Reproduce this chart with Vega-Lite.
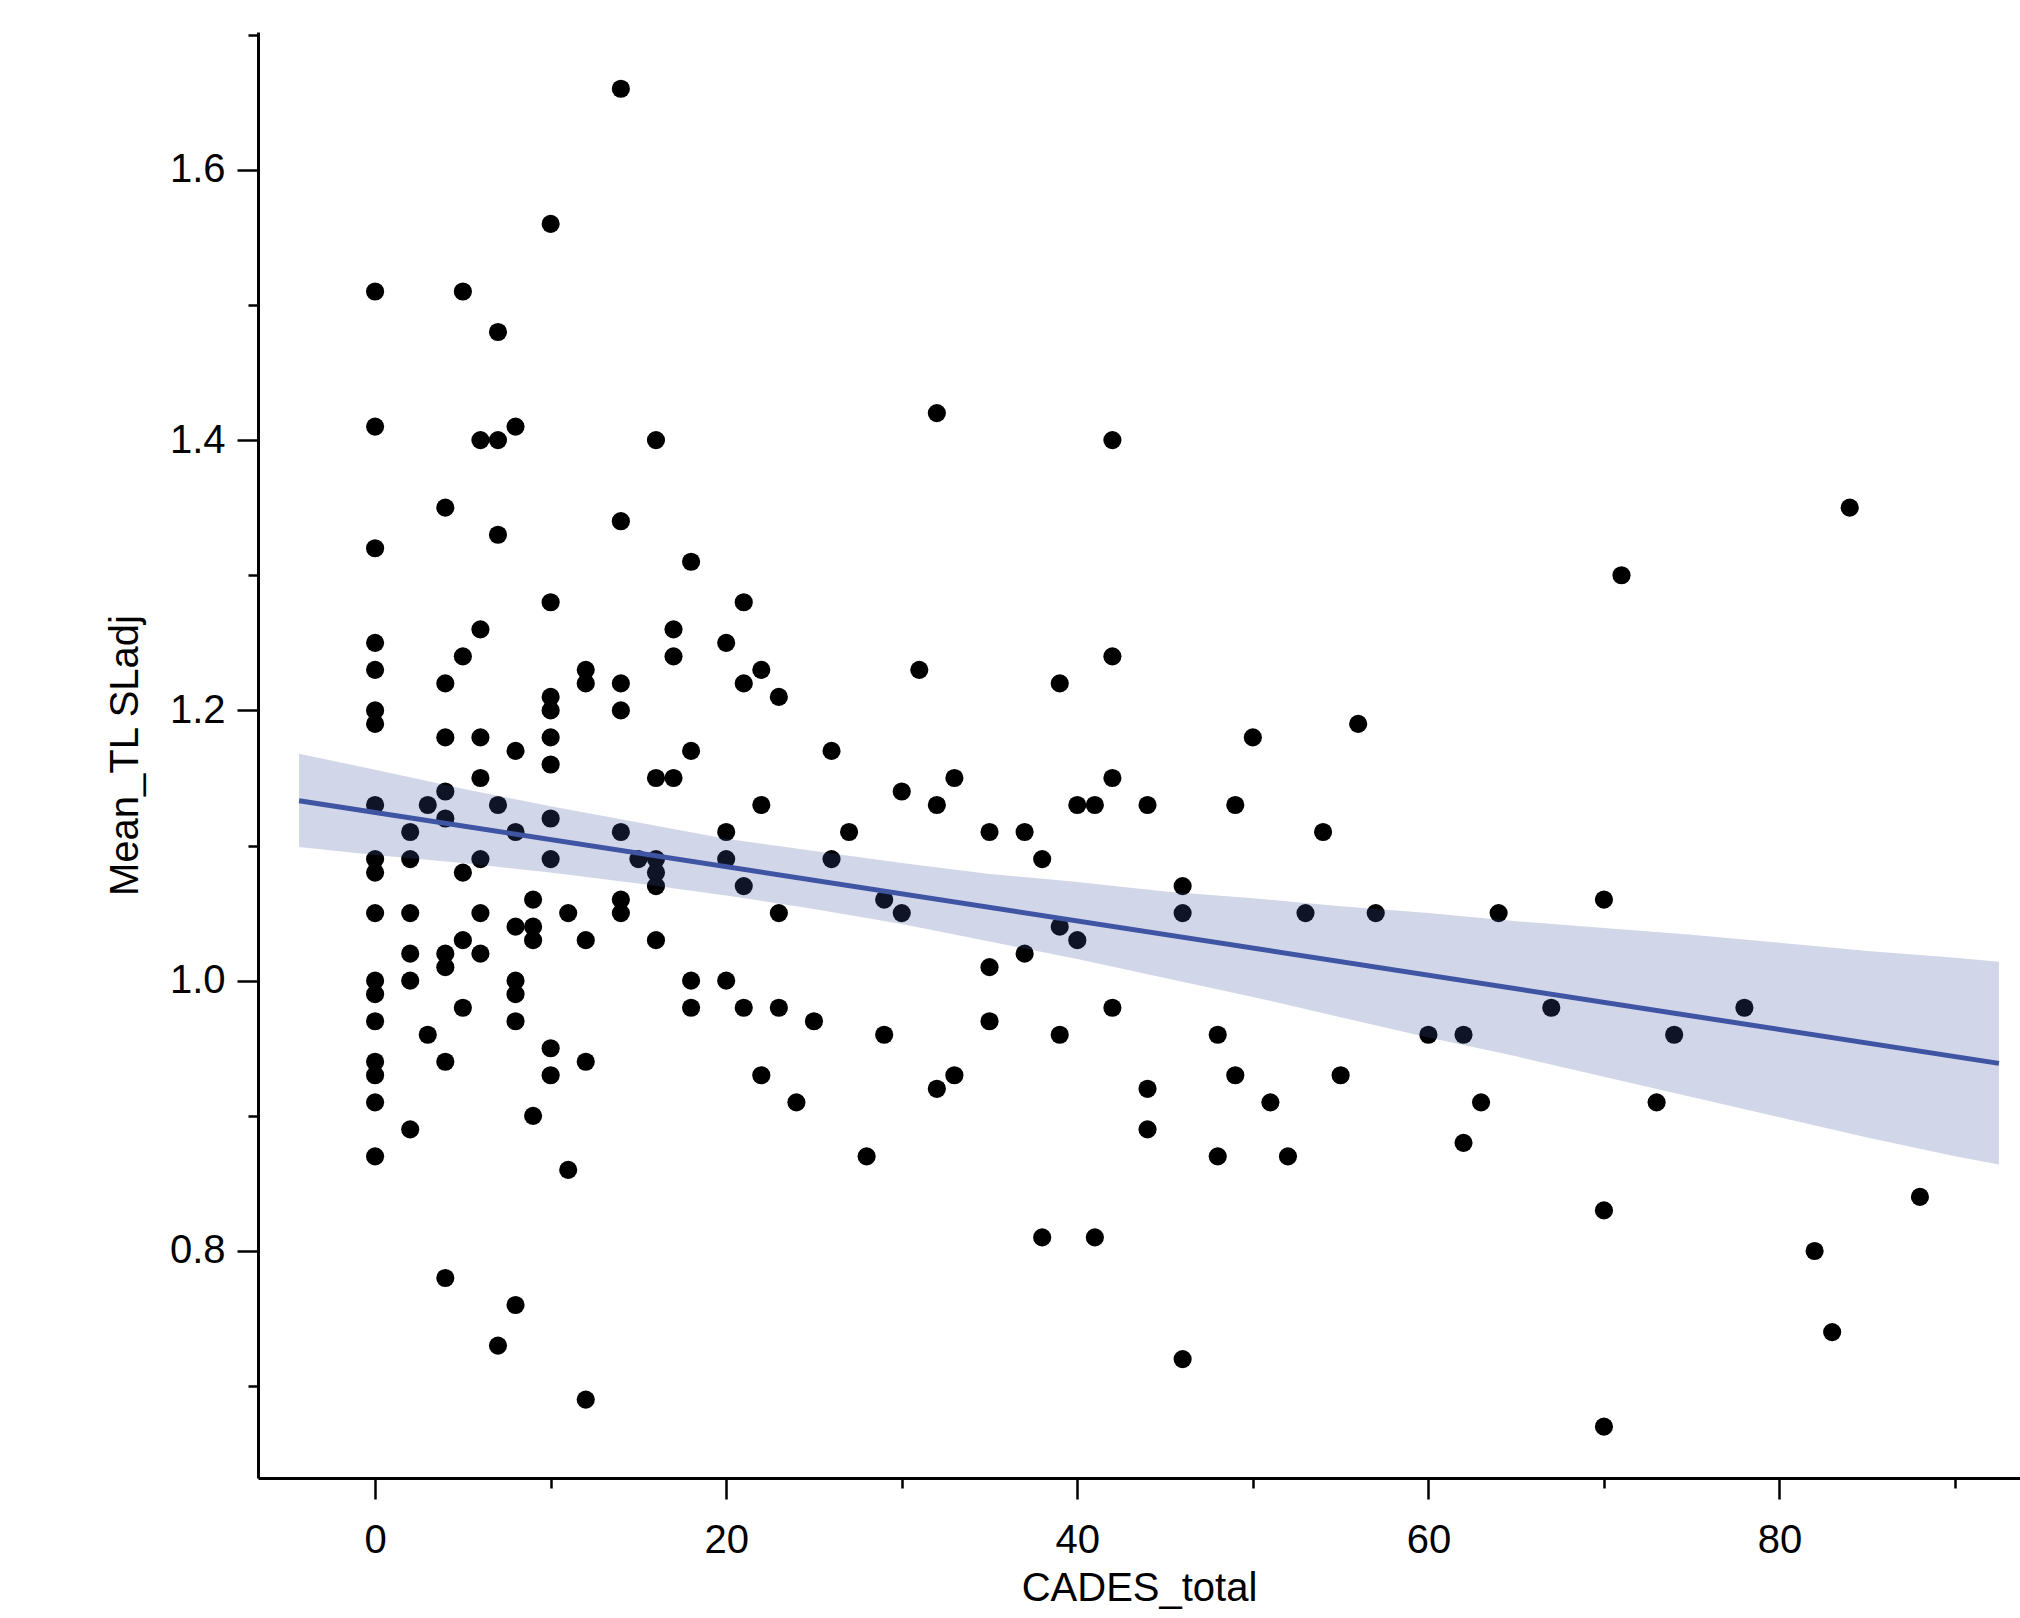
{
  "$schema": "https://vega.github.io/schema/vega-lite/v6.json",
  "width": 1762,
  "height": 1446,
  "autosize": {"type": "none"},
  "padding": {"left": 258, "top": 32, "right": 0, "bottom": 140},
  "background": "white",
  "datasets": {
    "points": [
      {"cades": 0, "tl": 1.51}, {"cades": 0, "tl": 1.41}, {"cades": 0, "tl": 1.32}, {"cades": 0, "tl": 1.25},
      {"cades": 0, "tl": 1.23}, {"cades": 0, "tl": 1.20}, {"cades": 0, "tl": 1.19}, {"cades": 0, "tl": 1.13},
      {"cades": 0, "tl": 1.09}, {"cades": 0, "tl": 1.08}, {"cades": 0, "tl": 1.05}, {"cades": 0, "tl": 1.00},
      {"cades": 0, "tl": 0.99}, {"cades": 0, "tl": 0.97}, {"cades": 0, "tl": 0.94}, {"cades": 0, "tl": 0.93},
      {"cades": 0, "tl": 0.91}, {"cades": 0, "tl": 0.87},
      {"cades": 2, "tl": 1.11}, {"cades": 2, "tl": 1.09}, {"cades": 2, "tl": 1.05}, {"cades": 2, "tl": 1.02},
      {"cades": 2, "tl": 1.00}, {"cades": 2, "tl": 0.89},
      {"cades": 3, "tl": 1.13}, {"cades": 3, "tl": 0.96},
      {"cades": 4, "tl": 1.35}, {"cades": 4, "tl": 1.22}, {"cades": 4, "tl": 1.18}, {"cades": 4, "tl": 1.14},
      {"cades": 4, "tl": 1.12}, {"cades": 4, "tl": 1.02}, {"cades": 4, "tl": 1.01}, {"cades": 4, "tl": 0.94},
      {"cades": 4, "tl": 0.78},
      {"cades": 5, "tl": 1.51}, {"cades": 5, "tl": 1.24}, {"cades": 5, "tl": 1.08}, {"cades": 5, "tl": 1.03},
      {"cades": 5, "tl": 0.98},
      {"cades": 6, "tl": 1.40}, {"cades": 6, "tl": 1.26}, {"cades": 6, "tl": 1.18}, {"cades": 6, "tl": 1.15},
      {"cades": 6, "tl": 1.09}, {"cades": 6, "tl": 1.05}, {"cades": 6, "tl": 1.02},
      {"cades": 7, "tl": 1.48}, {"cades": 7, "tl": 1.40}, {"cades": 7, "tl": 1.33}, {"cades": 7, "tl": 1.13},
      {"cades": 7, "tl": 0.73},
      {"cades": 8, "tl": 1.41}, {"cades": 8, "tl": 1.17}, {"cades": 8, "tl": 1.11}, {"cades": 8, "tl": 1.04},
      {"cades": 8, "tl": 1.00}, {"cades": 8, "tl": 0.99}, {"cades": 8, "tl": 0.97}, {"cades": 8, "tl": 0.76},
      {"cades": 9, "tl": 1.06}, {"cades": 9, "tl": 1.04}, {"cades": 9, "tl": 1.03}, {"cades": 9, "tl": 0.90},
      {"cades": 10, "tl": 1.56}, {"cades": 10, "tl": 1.28}, {"cades": 10, "tl": 1.21}, {"cades": 10, "tl": 1.20},
      {"cades": 10, "tl": 1.18}, {"cades": 10, "tl": 1.16}, {"cades": 10, "tl": 1.12}, {"cades": 10, "tl": 1.09},
      {"cades": 10, "tl": 0.95}, {"cades": 10, "tl": 0.93},
      {"cades": 11, "tl": 1.05}, {"cades": 11, "tl": 0.86},
      {"cades": 12, "tl": 1.23}, {"cades": 12, "tl": 1.22}, {"cades": 12, "tl": 1.03}, {"cades": 12, "tl": 0.94},
      {"cades": 12, "tl": 0.69},
      {"cades": 14, "tl": 1.66}, {"cades": 14, "tl": 1.34}, {"cades": 14, "tl": 1.22}, {"cades": 14, "tl": 1.20},
      {"cades": 14, "tl": 1.11}, {"cades": 14, "tl": 1.06}, {"cades": 14, "tl": 1.05},
      {"cades": 15, "tl": 1.09},
      {"cades": 16, "tl": 1.40}, {"cades": 16, "tl": 1.15}, {"cades": 16, "tl": 1.09}, {"cades": 16, "tl": 1.08},
      {"cades": 16, "tl": 1.07}, {"cades": 16, "tl": 1.03},
      {"cades": 17, "tl": 1.26}, {"cades": 17, "tl": 1.24}, {"cades": 17, "tl": 1.15},
      {"cades": 18, "tl": 1.31}, {"cades": 18, "tl": 1.17}, {"cades": 18, "tl": 1.00}, {"cades": 18, "tl": 0.98},
      {"cades": 20, "tl": 1.25}, {"cades": 20, "tl": 1.11}, {"cades": 20, "tl": 1.09}, {"cades": 20, "tl": 1.00},
      {"cades": 21, "tl": 1.28}, {"cades": 21, "tl": 1.22}, {"cades": 21, "tl": 1.07}, {"cades": 21, "tl": 0.98},
      {"cades": 22, "tl": 1.23}, {"cades": 22, "tl": 1.13}, {"cades": 22, "tl": 0.93},
      {"cades": 23, "tl": 1.21}, {"cades": 23, "tl": 1.05}, {"cades": 23, "tl": 0.98},
      {"cades": 24, "tl": 0.91},
      {"cades": 25, "tl": 0.97},
      {"cades": 26, "tl": 1.17}, {"cades": 26, "tl": 1.09},
      {"cades": 27, "tl": 1.11},
      {"cades": 28, "tl": 0.87},
      {"cades": 29, "tl": 1.06}, {"cades": 29, "tl": 0.96},
      {"cades": 30, "tl": 1.14}, {"cades": 30, "tl": 1.05},
      {"cades": 31, "tl": 1.23},
      {"cades": 32, "tl": 1.42}, {"cades": 32, "tl": 1.13}, {"cades": 32, "tl": 0.92},
      {"cades": 33, "tl": 1.15}, {"cades": 33, "tl": 0.93},
      {"cades": 35, "tl": 1.11}, {"cades": 35, "tl": 1.01}, {"cades": 35, "tl": 0.97},
      {"cades": 37, "tl": 1.11}, {"cades": 37, "tl": 1.02},
      {"cades": 38, "tl": 1.09}, {"cades": 38, "tl": 0.81},
      {"cades": 39, "tl": 1.22}, {"cades": 39, "tl": 1.04}, {"cades": 39, "tl": 0.96},
      {"cades": 40, "tl": 1.13}, {"cades": 40, "tl": 1.03},
      {"cades": 41, "tl": 1.13}, {"cades": 41, "tl": 0.81},
      {"cades": 42, "tl": 1.40}, {"cades": 42, "tl": 1.24}, {"cades": 42, "tl": 1.15}, {"cades": 42, "tl": 0.98},
      {"cades": 44, "tl": 1.13}, {"cades": 44, "tl": 0.92}, {"cades": 44, "tl": 0.89},
      {"cades": 46, "tl": 1.07}, {"cades": 46, "tl": 1.05}, {"cades": 46, "tl": 0.72},
      {"cades": 48, "tl": 0.96}, {"cades": 48, "tl": 0.87},
      {"cades": 49, "tl": 1.13}, {"cades": 49, "tl": 0.93},
      {"cades": 50, "tl": 1.18},
      {"cades": 51, "tl": 0.91},
      {"cades": 52, "tl": 0.87},
      {"cades": 53, "tl": 1.05},
      {"cades": 54, "tl": 1.11},
      {"cades": 55, "tl": 0.93},
      {"cades": 56, "tl": 1.19},
      {"cades": 57, "tl": 1.05},
      {"cades": 60, "tl": 0.96},
      {"cades": 62, "tl": 0.96}, {"cades": 62, "tl": 0.88},
      {"cades": 63, "tl": 0.91},
      {"cades": 64, "tl": 1.05},
      {"cades": 67, "tl": 0.98},
      {"cades": 70, "tl": 1.06}, {"cades": 70, "tl": 0.83}, {"cades": 70, "tl": 0.67},
      {"cades": 71, "tl": 1.30},
      {"cades": 73, "tl": 0.91},
      {"cades": 74, "tl": 0.96},
      {"cades": 78, "tl": 0.98},
      {"cades": 82, "tl": 0.80},
      {"cades": 83, "tl": 0.74},
      {"cades": 84, "tl": 1.35},
      {"cades": 88, "tl": 0.84}
    ],
    "band": [
      {"cades": -4.33, "lo": 1.099, "hi": 1.168},
      {"cades": 0, "lo": 1.093, "hi": 1.156},
      {"cades": 5, "lo": 1.087, "hi": 1.142},
      {"cades": 10, "lo": 1.080, "hi": 1.129},
      {"cades": 15, "lo": 1.072, "hi": 1.117},
      {"cades": 20, "lo": 1.063, "hi": 1.105},
      {"cades": 25, "lo": 1.053, "hi": 1.096},
      {"cades": 30, "lo": 1.042, "hi": 1.087},
      {"cades": 35, "lo": 1.029, "hi": 1.079},
      {"cades": 40, "lo": 1.016, "hi": 1.073},
      {"cades": 45, "lo": 1.002, "hi": 1.066},
      {"cades": 50, "lo": 0.988, "hi": 1.061},
      {"cades": 55, "lo": 0.973, "hi": 1.055},
      {"cades": 60, "lo": 0.958, "hi": 1.050},
      {"cades": 65, "lo": 0.944, "hi": 1.044},
      {"cades": 70, "lo": 0.929, "hi": 1.039},
      {"cades": 75, "lo": 0.914, "hi": 1.034},
      {"cades": 80, "lo": 0.899, "hi": 1.028},
      {"cades": 85, "lo": 0.884, "hi": 1.022},
      {"cades": 90, "lo": 0.870, "hi": 1.017},
      {"cades": 92.5, "lo": 0.864, "hi": 1.014}
    ],
    "fit": [
      {"cades": -4.33, "tl": 1.1332},
      {"cades": 92.5, "tl": 0.9388}
    ]
  },
  "config": {
    "view": {"stroke": null},
    "font": "Liberation Sans",
    "axis": {
      "grid": false,
      "domainColor": "black",
      "domainWidth": 3,
      "tickColor": "black",
      "tickWidth": 2.5,
      "labelFont": "Liberation Sans",
      "labelFontSize": 40,
      "labelColor": "black",
      "titleFont": "Liberation Sans",
      "titleFontSize": 40,
      "titleFontWeight": "normal",
      "titleColor": "black"
    }
  },
  "layer": [
    {
      "data": {"name": "points"},
      "mark": {"type": "circle", "size": 330, "color": "black", "opacity": 1},
      "encoding": {
        "x": {
          "field": "cades", "type": "quantitative", "title": "CADES_total",
          "scale": {"domain": [-6.67, 93.7], "nice": false, "zero": false},
          "axis": {
            "values": [0, 10, 20, 30, 40, 50, 60, 70, 80, 90],
            "format": "d",
            "labelExpr": "datum.value % 20 === 0 ? datum.label : ''",
            "tickSize": {"condition": {"test": "datum.value % 20 === 0", "value": 21}, "value": 10},
            "labelPadding": 21,
            "titlePadding": 8,
            "labelOverlap": false,
            "labelFlush": false
          }
        },
        "y": {
          "field": "tl", "type": "quantitative", "title": "Mean_TL SLadj",
          "scale": {"domain": [0.632, 1.702], "nice": false, "zero": false},
          "axis": {
            "values": [0.7, 0.8, 0.9, 1.0, 1.1, 1.2, 1.3, 1.4, 1.5, 1.6, 1.7],
            "format": ".1f",
            "labelExpr": "round(datum.value * 10) % 2 === 0 ? datum.label : ''",
            "tickSize": {"condition": {"test": "round(datum.value * 10) % 2 === 0", "value": 21}, "value": 10},
            "labelPadding": 12,
            "titlePadding": 24,
            "labelOverlap": false,
            "labelFlush": false
          }
        }
      }
    },
    {
      "data": {"name": "band"},
      "mark": {"type": "area", "color": "#4055a0", "opacity": 0.24},
      "encoding": {
        "x": {"field": "cades", "type": "quantitative", "title": "CADES_total"},
        "y": {"field": "hi", "type": "quantitative", "title": "Mean_TL SLadj"},
        "y2": {"field": "lo"}
      }
    },
    {
      "data": {"name": "fit"},
      "mark": {"type": "line", "color": "#3f54a2", "strokeWidth": 5},
      "encoding": {
        "x": {"field": "cades", "type": "quantitative", "title": "CADES_total"},
        "y": {"field": "tl", "type": "quantitative", "title": "Mean_TL SLadj"}
      }
    }
  ]
}
